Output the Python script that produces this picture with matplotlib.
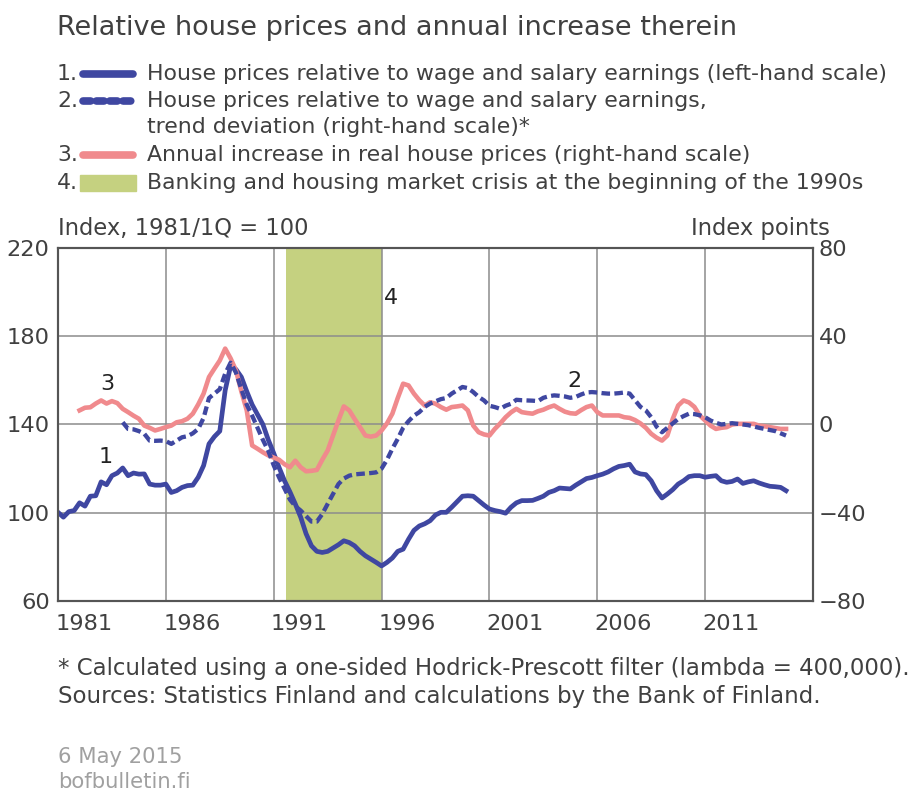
import numpy as np
import matplotlib.pyplot as plt
from matplotlib.lines import Line2D
from matplotlib.patches import Rectangle

BLUE = '#3f47a1'
PINK = '#f08a8d'
GREEN = '#c5d180'
TXT = '#404040'

# quarterly, 1981Q1 - 2014Q4, left-hand scale
rel_price = [100.2, 98.0, 100.5, 101.0, 104.5, 103.0, 107.5, 107.7,
             114.0, 112.7, 116.8, 118.0, 120.3, 116.8, 118.0, 117.5,
             117.6, 113.0, 112.5, 112.5, 113.0, 109.2, 110.0, 111.5,
             112.3, 112.5, 116.1, 121.4, 131.2, 134.5, 137.0, 155.5,
             166.5, 165.0, 161.5, 155.0, 149.0, 144.5, 140.0, 133.0,
             127.0, 120.5, 114.5, 109.5, 104.0, 98.0, 90.5, 85.0,
             82.5, 82.0, 82.5, 84.0, 85.5, 87.3, 86.5, 85.0,
             82.5, 80.5, 79.0, 77.5, 75.9, 77.5, 79.5, 82.5,
             83.5, 88.0, 92.0, 94.0, 95.0, 96.4, 99.0, 100.2,
             100.2, 102.5, 105.0, 107.5, 107.7, 107.5, 105.5, 103.5,
             101.7, 101.0, 100.5, 99.8, 102.5, 104.5, 105.5, 105.5,
             105.6, 106.5, 107.5, 109.2, 110.0, 111.2, 111.0, 110.8,
             112.5, 114.0, 115.5, 116.0, 116.8, 117.5, 118.5, 119.9,
             121.0, 121.4, 122.0, 118.5, 117.6, 117.3, 114.5, 110.0,
             106.7, 108.5, 110.5, 113.0, 114.5, 116.4, 116.8, 116.8,
             116.1, 116.5, 116.8, 114.5, 113.8, 114.2, 115.3, 113.3,
             114.0, 114.5, 113.5, 112.7, 112.0, 111.8, 111.5, 110.0]

# quarterly, 1984Q1 - 2014Q4, right-hand scale
trend_dev = [1.0, -2.0, -2.2, -3.0, -4.2, -7.3, -7.4, -7.3,
             -7.5, -8.8, -7.3, -5.8, -5.3, -4.0, -2.0, 3.0,
             12.0, 14.0, 16.0, 23.0, 28.0, 23.5, 16.0, 9.0,
             4.0, -1.5, -7.0, -12.0, -18.5, -24.0, -29.0, -34.0,
             -37.0, -39.0, -41.5, -44.0, -44.0, -40.6, -36.0, -31.5,
             -27.0, -24.5, -23.2, -22.6, -22.4, -22.2, -22.0, -21.7,
             -20.0, -16.0, -11.0, -6.5, -1.5, 1.5, 4.0, 5.6,
             8.0, 9.5, 10.5, 11.5, 12.0, 14.0, 15.5, 17.0,
             16.5, 14.7, 12.5, 10.9, 8.5, 7.9, 7.1, 8.5,
             9.4, 11.2, 11.0, 10.9, 10.8, 10.6, 12.1, 12.8,
             13.2, 13.0, 12.7, 12.1, 12.5, 13.6, 14.5, 14.7,
             14.5, 14.2, 14.0, 14.0, 14.2, 14.5, 14.0, 11.0,
             8.0, 6.4, 3.3, -1.0, -3.5, -1.5, 0.5, 2.5,
             3.8, 4.9, 4.7, 4.2, 3.3, 1.8, 0.8, 0.0,
             0.3, 0.6, 0.3, 0.0, -0.3, -0.9, -1.5, -2.0,
             -2.5, -3.0, -4.0, -5.0]

# quarterly, 1982Q1 - 2014Q4, right-hand scale
real_incr = [6.4, 7.6, 7.8, 9.5, 10.9, 9.5, 10.6, 9.7,
             7.1, 5.6, 4.0, 2.6, -0.5, -1.5, -2.7, -2.0,
             -1.2, -0.5, 1.0, 1.5, 2.6, 4.9, 9.1, 14.0,
             21.5, 25.3, 29.0, 34.4, 30.0, 24.5, 15.0, 6.4,
             -9.5, -11.0, -12.6, -14.0, -15.0, -16.0, -18.0, -19.4,
             -16.4, -19.4, -21.2, -21.0, -20.6, -16.0, -11.8, -5.0,
             1.8, 8.2, 6.4, 2.5, -1.2, -5.0, -5.5, -5.0,
             -2.7, 0.5, 4.9, 12.0, 18.5, 17.7, 14.0, 11.0,
             8.6, 10.1, 9.4, 7.9, 6.7, 7.9, 8.2, 8.6,
             6.4, -0.5, -3.5, -4.5, -5.0, -2.0, 0.5, 3.3,
             5.5, 7.1, 5.6, 5.2, 4.9, 6.0, 6.7, 7.8,
             8.6, 7.1, 5.8, 5.1, 4.9, 6.5, 7.9, 8.6,
             5.6, 4.1, 4.1, 4.1, 4.1, 3.3, 3.0, 2.0,
             0.5, -1.5, -4.2, -6.0, -7.3, -5.0, 2.6, 8.6,
             10.9, 10.0, 8.0, 4.1, 1.8, -0.5, -2.0, -1.5,
             -1.2, 0.0, 0.3, 0.3, 0.3, 0.3, -0.5, -0.8,
             -1.2, -1.6, -2.0, -2.0]

crisis_start, crisis_end = 1991.58, 1996.0
years = [1981, 1986, 1991, 1996, 2001, 2006, 2011]
left_ticks = [60, 100, 140, 180, 220]
right_ticks = [-80, -40, 0, 40, 80]

legend_labels = ['House prices relative to wage and salary earnings (left-hand scale)',
                 'House prices relative to wage and salary earnings,',
                 'trend deviation (right-hand scale)*',
                 'Annual increase in real house prices (right-hand scale)',
                 'Banking and housing market crisis at the beginning of the 1990s']

t1 = 1981 + np.arange(len(rel_price)) / 4
t2 = 1984 + np.arange(len(trend_dev)) / 4
t3 = 1982 + np.arange(len(real_incr)) / 4

W, H = 916, 793
fig = plt.figure(figsize=(W / 100, H / 100), dpi=100)
px = lambda x: x / W
py = lambda y: 1 - y / H

ax = fig.add_axes([px(58), py(601), px(813) - px(58), py(248) - py(601)])
ax2 = ax.twinx()

ax.axvspan(crisis_start, crisis_end, color=GREEN, lw=0, zorder=0)
ax.plot(t1, rel_price, color=BLUE, lw=3.4, solid_joinstyle='round', zorder=3)
ax2.plot(t3, real_incr, color=PINK, lw=3.3, solid_joinstyle='round')
ax2.plot(t2, trend_dev, color=BLUE, lw=3.1, dashes=(2.0, 1.0))

ax.set_xlim(1981, 2016)
ax.set_ylim(60, 220)
ax2.set_ylim(-80, 80)
ax.set_xticks(years)
ax.set_xticklabels([])
ax.set_xticks([y + 1.2 for y in years], minor=True)
ax.set_xticklabels([str(y) for y in years], minor=True)
ax.set_yticks(left_ticks)
ax2.set_yticks(right_ticks)
ax2.set_yticklabels(['\u221280', '\u221240', '0', '40', '80'])
ax.grid(True, which='major', color='#8c8c8c', lw=1.1)
ax.set_axisbelow(True)
ax.tick_params(which='both', length=0, labelsize=16.2, labelcolor=TXT)
ax.tick_params(axis='x', which='minor', pad=9)
ax.tick_params(axis='y', pad=6)
ax2.tick_params(length=0, labelsize=16.2, labelcolor=TXT, pad=4)
for a in (ax, ax2):
    for s in a.spines.values():
        s.set_color('#555555')
        s.set_linewidth(1.5)

ax.text(1983.29, 158.5, '3', fontsize=16, color='#222222', ha='center', va='center')
ax.text(1983.2, 125.1, '1', fontsize=16, color='#222222', ha='center', va='center')
ax.text(2004.94, 159.7, '2', fontsize=16, color='#222222', ha='center', va='center')
ax.text(1996.45, 197.3, '4', fontsize=16, color='#222222', ha='center', va='center')

# title and legend
fig.text(px(57), py(28), 'Relative house prices and annual increase therein',
         fontsize=19.5, color=TXT, va='center')
rows = [74, 101, 127, 155, 183]
nums = ['1.', '2.', '', '3.', '4.']
for y, n, lab in zip(rows, nums, legend_labels):
    fig.text(px(57), py(y), n, fontsize=15.8, color=TXT, va='center')
    fig.text(px(147), py(y), lab, fontsize=15.8, color=TXT, va='center')
fig.add_artist(Line2D([px(83), px(133)], [py(74)] * 2, color=BLUE, lw=5.5, solid_capstyle='round'))
fig.add_artist(Line2D([px(83), px(133)], [py(101)] * 2, color=BLUE, lw=5.5,
                      dashes=(1.0, 0.75), dash_capstyle='round'))
fig.add_artist(Line2D([px(83), px(133)], [py(155)] * 2, color=PINK, lw=5.5, solid_capstyle='round'))
fig.add_artist(Rectangle((px(80), py(191)), px(136) - px(80), py(175) - py(191),
                         color=GREEN, transform=fig.transFigure))

fig.text(px(58), py(229), 'Index, 1981/1Q = 100', fontsize=16.3, color=TXT, va='center')
fig.text(px(830), py(229), 'Index points', fontsize=16.3, color=TXT, va='center', ha='right')

fig.text(px(58), py(669), '* Calculated using a one-sided Hodrick-Prescott filter (lambda = 400,000).',
         fontsize=16.5, color=TXT, va='center')
fig.text(px(58), py(697), 'Sources: Statistics Finland and calculations by the Bank of Finland.',
         fontsize=16.5, color=TXT, va='center')
fig.text(px(58), py(757), '6 May 2015', fontsize=15.2, color='#a0a0a0', va='center')
fig.text(px(58), py(782), 'bofbulletin.fi', fontsize=15.2, color='#a0a0a0', va='center')

fig.savefig('out.png', dpi=100)
